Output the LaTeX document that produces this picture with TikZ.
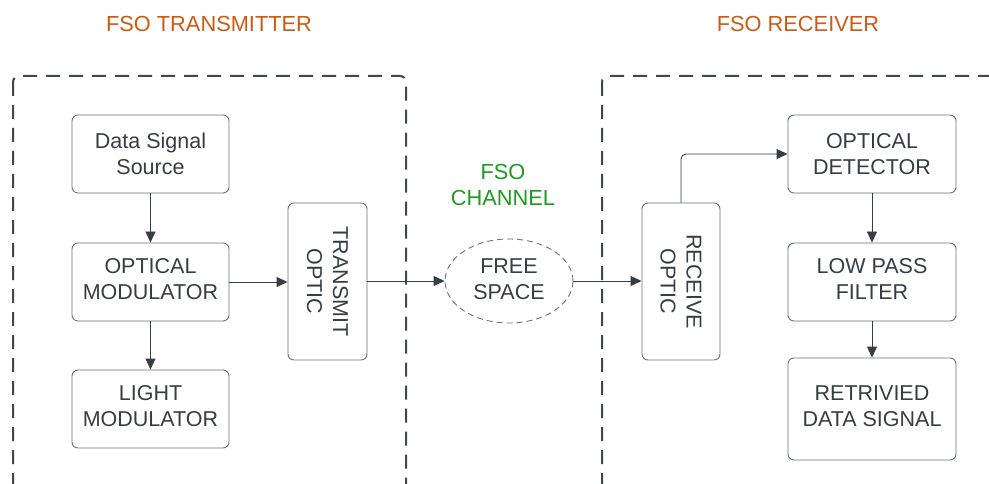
\documentclass[tikz,border=0pt]{standalone}
\usepackage{fontspec}
\setmainfont{Liberation Sans}
\usetikzlibrary{shapes.geometric,arrows.meta}
\definecolor{txt}{HTML}{363D45}
\definecolor{bord}{HTML}{6A727B}
\definecolor{cont}{HTML}{40464E}
\definecolor{orng}{HTML}{CC5A12}
\definecolor{grn}{HTML}{1E9A22}
\tikzset{
  blk/.style={draw=bord,line width=0.9pt,rounded corners=6pt,inner sep=0pt,align=center,text=txt,font=\fontsize{21.5}{26}\selectfont,text depth=6pt},
  lbl/.style={inner sep=0pt,align=center,text=txt,font=\fontsize{21.5}{26}\selectfont},
  container/.style={draw=cont,line width=2pt,rounded corners=6pt,dash pattern=on 14pt off 9pt},
  conn/.style={draw=txt,line width=0.9pt,-{Triangle[length=11pt,width=10pt]}},
  ttl/.style={inner sep=0pt,align=center,font=\fontsize{21.8}{26}\selectfont}
}
\begin{document}
\begin{tikzpicture}[x=1pt,y=-1pt]
\useasboundingbox (0,0) rectangle (989,484);
\begin{scope}
\clip (0,0) rectangle (989,484);
\draw[container] (13,76) rectangle (406,530);
\draw[container] (602,76) rectangle (1040,530);
\end{scope}
\node[ttl,text=orng] (t1) at (209,24) {FSO TRANSMITTER};
\node[ttl,text=orng] (t2) at (798,24) {FSO RECEIVER};
\node[ttl,text=grn] (ch) at (503,185) {FSO\\CHANNEL};

\node[blk,minimum width=157pt,minimum height=78pt,text depth=0pt] (src) at (150.5,154) {Data Signal\\Source};
\node[blk,minimum width=157pt,minimum height=78pt] (om) at (150.5,282) {OPTICAL\\MODULATOR};
\node[blk,minimum width=157pt,minimum height=78pt] (lm) at (150.5,409) {LIGHT\\MODULATOR};
\node[blk,minimum width=79pt,minimum height=157pt] (to) at (327.5,281.5) {};
\node[lbl,rotate=-90] (tot) at (to.center) {TRANSMIT\\OPTIC};
\node[draw=bord,line width=0.9pt,dash pattern=on 6pt off 4pt,ellipse,minimum width=128pt,minimum height=84pt,inner sep=0pt,align=center,text=txt,font=\fontsize{21.5}{26}\selectfont,text depth=4pt] (fs) at (509,281) {FREE\\SPACE};
\node[blk,minimum width=78pt,minimum height=157pt] (ro) at (681,281.5) {};
\node[lbl,rotate=-90] (rot) at (ro.center) {RECEIVE\\OPTIC};
\node[blk,minimum width=168pt,minimum height=78pt,text depth=0pt] (od) at (872,154) {OPTICAL\\DETECTOR};
\node[blk,minimum width=168pt,minimum height=78pt] (lp) at (872,282) {LOW PASS\\FILTER};
\node[blk,minimum width=168pt,minimum height=102pt] (rd) at (872,409) {RETRIVIED\\DATA SIGNAL};

\draw[conn] (src) -- (om);
\draw[conn] (om) -- (lm);
\draw[conn] (om.east) -- (om.east -| to.west);
\draw[conn] (to.east |- fs.west) -- (fs.west);
\draw[conn] (fs.east) -- (fs.east -| ro.west);
\draw[conn,rounded corners=5pt] (ro.north) |- (od.west);
\draw[conn] (od) -- (lp);
\draw[conn] (lp) -- (rd);
\end{tikzpicture}
\end{document}
